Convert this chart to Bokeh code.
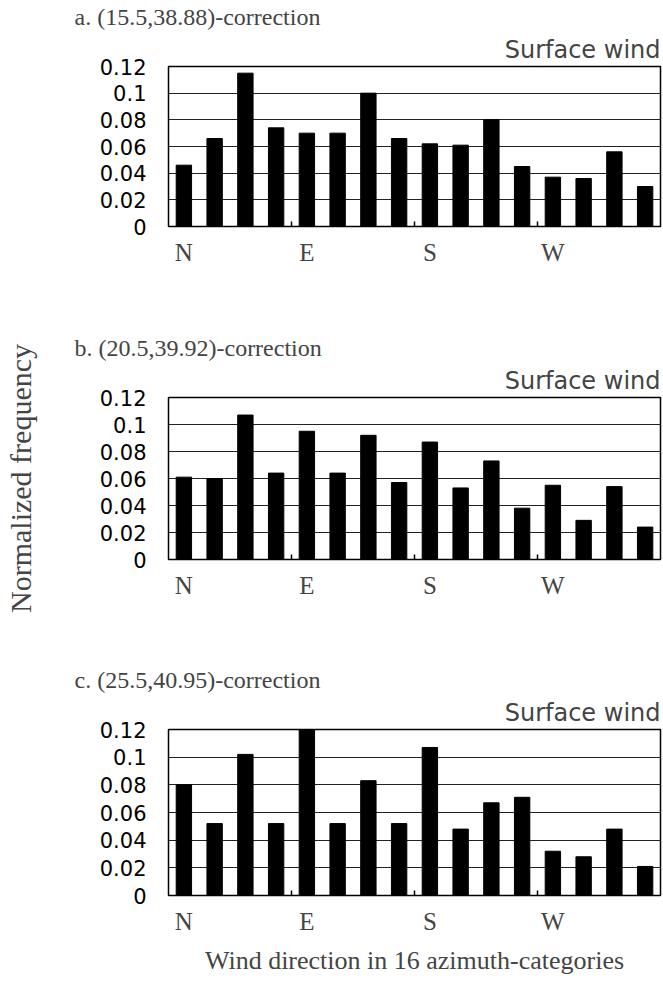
from bokeh.plotting import figure
from bokeh.models import Range1d, FixedTicker, Title
from bokeh.layouts import column
from bokeh.embed import file_html
from bokeh.resources import INLINE

# ---- data ----
directions = ["N", "NNE", "NE", "ENE", "E", "ESE", "SE", "SSE",
              "S", "SSW", "SW", "WSW", "W", "WNW", "NW", "NNW"]
panel_titles = ["a.  (15.5,38.88)-correction",
                "b.  (20.5,39.92)-correction",
                "c.  (25.5,40.95)-correction"]
freq_a = [0.046, 0.066, 0.115, 0.074, 0.070, 0.070, 0.100, 0.066,
          0.062, 0.061, 0.080, 0.045, 0.037, 0.036, 0.056, 0.030]
freq_b = [0.061, 0.060, 0.107, 0.064, 0.095, 0.064, 0.092, 0.057,
          0.087, 0.053, 0.073, 0.038, 0.055, 0.029, 0.054, 0.024]
freq_c = [0.080, 0.052, 0.102, 0.052, 0.120, 0.052, 0.083, 0.052,
          0.107, 0.048, 0.067, 0.071, 0.032, 0.028, 0.048, 0.021]
y_ticks = [0, 0.02, 0.04, 0.06, 0.08, 0.1, 0.12]
y_tick_labels = ["0", "0.02", "0.04", "0.06", "0.08", "0.1", "0.12"]
x_tick_pos = [0, 4, 8, 12]
x_tick_labels = ["N", "E", "S", "W"]
x_minor = [3.5, 7.5, 11.5]
subtitle = "Surface wind"
y_title = "Normalized frequency"
x_title = "Wind direction in 16 azimuth-categories"

SERIF = "Liberation Serif"
SANS = "DejaVu Sans"


def make_panel(vals, title, height, top, bottom, ylab=None, xlab=None):
    p = figure(width=663, height=height, output_backend="svg", toolbar_location=None,
               x_range=Range1d(-0.5, 15.5), y_range=Range1d(0, 0.12),
               min_border_left=167, min_border_right=3,
               min_border_top=top, min_border_bottom=bottom)
    p.outline_line_color = "black"
    p.outline_line_width = 1.5
    p.background_fill_color = "white"
    p.border_fill_color = "white"
    xs = list(range(len(vals)))
    p.vbar(x=xs, top=vals, width=0.5, bottom=0, fill_color="black", line_color="black")

    # subtitle, then panel title above it
    p.add_layout(Title(text=subtitle, align="right", text_font=SANS,
                       text_font_size="24px", text_font_style="normal",
                       standoff=6), "above")
    p.add_layout(Title(text=title, align="left", offset=-94, text_font=SERIF,
                       text_font_size="24px", text_font_style="normal",
                       standoff=2), "above")

    # axes
    p.xaxis.ticker = FixedTicker(ticks=x_tick_pos, minor_ticks=x_minor)
    p.xaxis.major_label_overrides = dict(zip(x_tick_pos, x_tick_labels))
    p.xaxis.major_tick_in = 0
    p.xaxis.major_tick_out = 0
    p.xaxis.minor_tick_in = 5
    p.xaxis.minor_tick_out = 0
    p.xaxis.minor_tick_line_width = 1.5
    p.xaxis.axis_line_color = None
    p.xaxis.major_label_text_font = SERIF
    p.xaxis.major_label_text_font_size = "25px"
    p.xaxis.major_label_standoff = 12
    p.xgrid.grid_line_color = None

    p.yaxis.ticker = FixedTicker(ticks=y_ticks)
    p.yaxis.major_label_overrides = dict(zip(y_ticks, y_tick_labels))
    p.yaxis.major_tick_in = 0
    p.yaxis.major_tick_out = 0
    p.yaxis.minor_tick_line_color = None
    p.yaxis.axis_line_color = None
    p.yaxis.major_label_text_font = SANS
    p.yaxis.major_label_text_font_size = "21px"
    p.yaxis.major_label_text_color = "black"
    p.yaxis.major_label_standoff = 22
    p.ygrid.ticker = FixedTicker(ticks=y_ticks)
    p.ygrid.grid_line_color = "#222222"
    p.ygrid.grid_line_width = 1

    if ylab:
        p.yaxis.axis_label = ylab
        p.yaxis.axis_label_text_font = SERIF
        p.yaxis.axis_label_text_font_size = "30px"
        p.yaxis.axis_label_text_font_style = "normal"
        p.yaxis.axis_label_standoff = 60
    if xlab:
        p.xaxis.axis_label = xlab
        p.xaxis.axis_label_text_font = SERIF
        p.xaxis.axis_label_text_font_size = "26px"
        p.xaxis.axis_label_text_font_style = "normal"
        p.xaxis.axis_label_standoff = 8
    return p


pa = make_panel(freq_a, panel_titles[0], 330, 65, 104)
pb = make_panel(freq_b, panel_titles[1], 332, 67, 103, ylab=y_title)
pc = make_panel(freq_c, panel_titles[2], 328, 67, 95, xlab=x_title)

layout = column(pa, pb, pc, spacing=0)
open("out.html", "w").write(file_html(layout, INLINE))
